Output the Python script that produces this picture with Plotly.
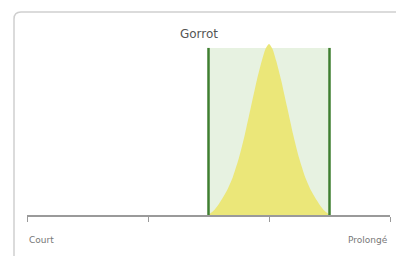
import plotly.graph_objects as go

# ---- data ----
title_text = "Gorrot"
axis_labels = ["Court", "Prolongé"]
tick_positions = [0, 1, 2, 3]
band_bounds = [1.5, 2.5]
band_top = 0.977
curve_x = [1.5, 1.55, 1.6, 1.65, 1.7, 1.75, 1.8, 1.85, 1.9, 1.94, 1.97, 2.0,
           2.03, 2.06, 2.1, 2.15, 2.2, 2.25, 2.3, 2.35, 2.4, 2.45, 2.5]
curve_y = [0.0, 0.03, 0.08, 0.14, 0.22, 0.33, 0.47, 0.63, 0.79, 0.9, 0.97, 1.0,
           0.97, 0.9, 0.79, 0.63, 0.47, 0.33, 0.22, 0.14, 0.08, 0.03, 0.0]

GREEN = "#3f7f31"
BAND = "#e7f2e1"
YELLOW = "#ebe779"
GREY = "#9a9a9a"
TEXT = "#777777"

fig = go.Figure()

# shaded band
fig.add_trace(go.Scatter(
    x=[band_bounds[0], band_bounds[0], band_bounds[1], band_bounds[1], band_bounds[0]],
    y=[0, band_top, band_top, 0, 0],
    fill="toself", fillcolor=BAND, line=dict(width=0), mode="lines",
    hoverinfo="skip", showlegend=False))

# bell curve
fig.add_trace(go.Scatter(
    x=curve_x, y=curve_y, fill="tozeroy", fillcolor=YELLOW,
    line=dict(width=0, shape="spline", smoothing=0.6, color=YELLOW), mode="lines",
    hoverinfo="skip", showlegend=False))

# band edges
for b in band_bounds:
    fig.add_trace(go.Scatter(
        x=[b, b], y=[0, band_top], mode="lines",
        line=dict(color=GREEN, width=2.5), hoverinfo="skip", showlegend=False))

# card border (pixel-sized path anchored at plot origin)
fig.add_shape(type="path", xref="paper", yref="paper",
              xsizemode="pixel", ysizemode="pixel", xanchor=0, yanchor=0,
              path="M -13,-60 L -13,196 Q -13,203 -6,203 L 400,203",
              line=dict(color="#cfcfcf", width=1.5), layer="below")

for pos, label, anchor in [(tick_positions[0], axis_labels[0], "left"),
                           (tick_positions[-1], axis_labels[1], "right")]:
    fig.add_annotation(x=pos, y=-0.146, xref="x", yref="paper",
                       text=label, showarrow=False, xanchor=anchor, yanchor="middle",
                       font=dict(size=9, color=TEXT, family="DejaVu Sans"))

fig.update_layout(
    width=396, height=256,
    margin=dict(l=27, r=6, t=44, b=41),
    paper_bgcolor="white", plot_bgcolor="white",
    title=dict(text=title_text, x=(199 / 396), xanchor="center", y=1 - 34 / 256, yanchor="middle",
               font=dict(size=12, color="#555555", family="DejaVu Sans")),
    xaxis=dict(range=[0, 3], showgrid=False, zeroline=False, showline=True,
               linecolor=GREY, linewidth=2, ticks="outside", ticklen=5,
               tickcolor=GREY, tickwidth=1, tickvals=tick_positions,
               showticklabels=False, fixedrange=True),
    yaxis=dict(range=[0, 1.0], visible=False, fixedrange=True),
)

fig.write_html("out.html", config={"displayModeBar": False},
               post_script="document.body.style.margin='0';document.body.style.overflow='hidden';")
